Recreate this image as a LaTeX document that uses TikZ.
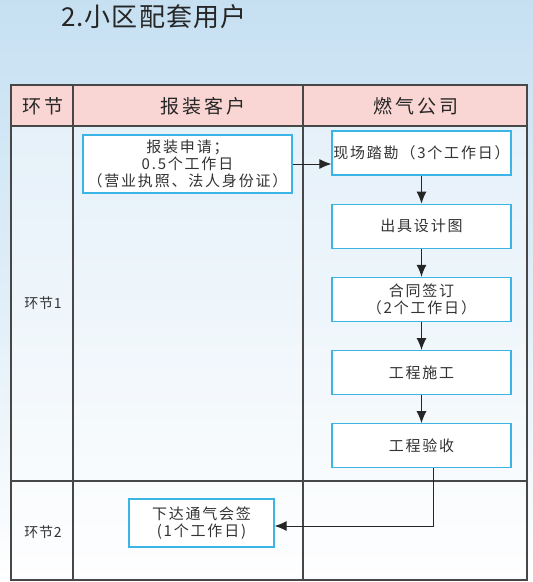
\documentclass[tikz,border=0pt]{standalone}
\usepackage{fontspec}
\setmainfont{Noto Sans CJK SC}
\usetikzlibrary{positioning, arrows.meta}
\definecolor{skyblue}{HTML}{C6E0F2}
\definecolor{headpink}{HTML}{F9D6D4}
\definecolor{boxcyan}{HTML}{3BB4E6}
\definecolor{gridgray}{HTML}{474747}
\definecolor{textgray}{HTML}{333333}
\tikzset{
  taskbox/.style={draw=boxcyan, line width=1.2pt, fill=white, minimum width=179pt, minimum height=44pt,
    align=center, inner sep=0pt, text=textgray,
    font=\fontsize{15}{17}\selectfont\addfontfeatures{LetterSpace=12}},
  headtext/.style={text=black!85, font=\fontsize{19}{21}\selectfont\addfontfeatures{LetterSpace=15}},
  rowlabel/.style={text=textgray, font=\fontsize{14}{16}\selectfont\addfontfeatures{LetterSpace=5}},
  flowarrow/.style={-{Latex[length=12pt,width=10pt]}, line width=1pt, color=black!85},
  gridline/.style={draw=gridgray, line width=1.1pt}
}

\begin{document}
\begin{tikzpicture}[x=1pt,y=-1pt]
  \shade[top color=skyblue, bottom color=white, middle color=skyblue!55] (0,0) rectangle (533,582);
  \useasboundingbox (0,0) rectangle (533,582);
  \node[anchor=west, text=black!85, inner sep=0pt,
    font=\fontsize{26}{28}\selectfont\addfontfeatures{LetterSpace=4}] (title) at (61,17) {2.小区配套用户};

  % table
  \fill[headpink] (11,85) rectangle (527,126);
  \fill[white, opacity=0.45] (11,126) rectangle (527,580);
  \draw[gridline] (11,85) rectangle (527,580);
  \draw[gridline] (11,126) -- (527,126);
  \draw[gridline] (11,481) -- (527,481);
  \draw[gridline] (73,85) -- (73,580);
  \draw[gridline] (303,85) -- (303,580);
  \node[headtext] (hstage) at (43,106) {环节};
  \node[headtext] (hclient) at (203,106) {报装客户};
  \node[headtext] (hcompany) at (416,106) {燃气公司};
  \node[rowlabel] (stage1) at (43,303) {环节1};
  \node[rowlabel] (stage2) at (43,532) {环节2};

  % flow
  \node[taskbox, minimum width=209pt, minimum height=58pt] (apply) at (187.5,164) {报装申请；\\0.5个工作日\\（营业执照、法人身份证）};
  \node[taskbox] (survey) at (421.5,153) {现场踏勘（3个工作日）};
  \node[taskbox, below=28pt of survey] (design) {出具设计图};
  \node[taskbox, below=28pt of design] (contract) {合同签订\\（2个工作日）};
  \node[taskbox, below=28pt of contract] (build) {工程施工};
  \node[taskbox, below=28pt of build] (accept) {工程验收};
  \node[taskbox, minimum width=145pt, minimum height=48pt] (notify) at (201.5,523) {下达通气会签\\(1个工作日)};
  \coordinate (turn) at (433,526);

  \draw[flowarrow] (apply.east) -- (apply.east -| survey.west);
  \draw[flowarrow] (survey) -- (design);
  \draw[flowarrow] (design) -- (contract);
  \draw[flowarrow] (contract) -- (build);
  \draw[flowarrow] (build) -- (accept);
  \draw[flowarrow] (accept.south -| turn) -- (turn) -- (turn -| notify.east);
\end{tikzpicture}
\end{document}
